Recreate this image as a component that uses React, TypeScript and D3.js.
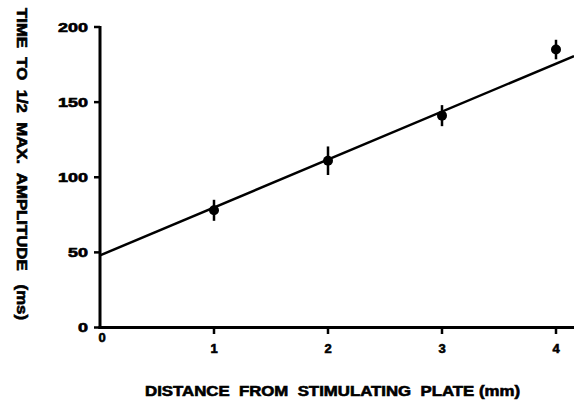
import React from "react";
import * as d3 from "d3";

const distances = [1, 2, 3, 4];
const times = [78, 111, 141, 185];
const errors = [7, 9.5, 7, 6.5];
const xTicks = [0, 1, 2, 3, 4];
const yTicks = [0, 50, 100, 150, 200];
const fitIntercept = 48;
const fitSlope = 31.9;
const xTitle = "DISTANCE  FROM  STIMULATING  PLATE (mm)";
const yTitle = "TIME  TO  1/2  MAX.  AMPLITUDE   (ms)";

export default function App() {
  const W = 574, H = 402;
  const x = d3.scaleLinear().domain([0, 4]).range([100, 556]);
  const y = d3.scaleLinear().domain([0, 200]).range([327.5, 27]);
  const xEnd = x.invert(574);
  const line = d3.line<number>().x((d) => x(d)).y((d) => y(fitIntercept + fitSlope * d));
  const font = "'Liberation Sans', Arial, sans-serif";
  const heavy = { stroke: "#000", strokeWidth: 0.6 };
  return (
    <svg width={W} height={H} style={{ position: "absolute", left: 0, top: 0, background: "#fff" }}>
      <rect width={W} height={H} fill="#fff" />
      {/* axes */}
      <line x1={x(0)} y1={y(200) - 1} x2={x(0)} y2={y(0) + 1.5} stroke="#000" strokeWidth={3} />
      <line x1={x(0) - 1.5} y1={y(0)} x2={574} y2={y(0)} stroke="#000" strokeWidth={3} />
      {yTicks.map((t) => (
        <g key={"y" + t}>
          <line x1={x(0) - 6} x2={x(0)} y1={y(t)} y2={y(t)} stroke="#000" strokeWidth={2.5} />
          <text x={x(0) - 12} y={y(t)} dy="0.36em" textAnchor="end" fontFamily={font} fontWeight="bold" fontSize={13}
            textLength={String(t).length * 10} lengthAdjust="spacingAndGlyphs" {...heavy}>
            {t}
          </text>
        </g>
      ))}
      {xTicks.map((t) => (
        <g key={"x" + t}>
          {t > 0 && <line x1={x(t)} x2={x(t)} y1={y(0)} y2={y(0) + 6.5} stroke="#000" strokeWidth={2.5} />}
          <text x={x(t) + (t === 0 ? 2 : 0)} y={t === 0 ? 337 : 348} dy="0.36em" textAnchor="middle" fontFamily={font} fontWeight="bold" fontSize={13} {...heavy}>
            {t}
          </text>
        </g>
      ))}
      {/* regression line */}
      <path d={line([0, xEnd]) || ""} fill="none" stroke="#000" strokeWidth={2.5} />
      {/* points */}
      {distances.map((d, i) => (
        <g key={"p" + i}>
          <line x1={x(d)} x2={x(d)} y1={y(times[i] + errors[i])} y2={y(times[i] - errors[i])} stroke="#000" strokeWidth={2.5} />
          <circle cx={x(d)} cy={y(times[i])} r={5} fill="#000" />
        </g>
      ))}
      {/* titles */}
      <text x={145} y={396} fontFamily={font} fontWeight="bold" fontSize={14} textLength={375} lengthAdjust="spacingAndGlyphs" style={{ whiteSpace: "pre" }} {...heavy}>
        {xTitle}
      </text>
      <text transform={`translate(17,8) rotate(90)`} x={0} y={0} fontFamily={font} fontWeight="bold" fontSize={14} textLength={312} lengthAdjust="spacingAndGlyphs" style={{ whiteSpace: "pre" }} {...heavy}>
        {yTitle}
      </text>
    </svg>
  );
}
